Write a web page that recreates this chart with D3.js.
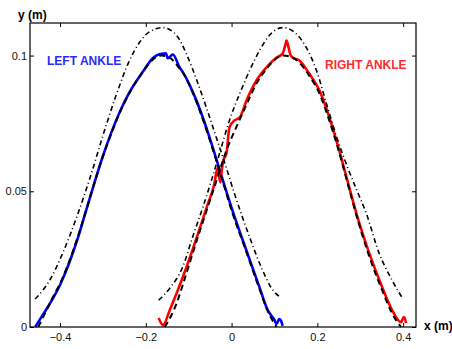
<!DOCTYPE html>
<html>
<head>
<meta charset="utf-8">
<script src="https://cdn.jsdelivr.net/npm/d3@7"></script>
<style>
    body { margin: 0; background: #fff; }
    svg { display: block; font-family: "Liberation Sans", Arial, Helvetica, sans-serif; }
    .axis path { display: none; }
    .axis line { stroke: #000; }
    .axis text { font-size: 11px; fill: #111; }
</style>
</head>
<body>
<div id="chart"></div>
<script>
// Measured left ankle trajectory [x, y] in metres
const leftAnkle = [
    [-0.458, 0], [-0.442, 0.004], [-0.423, 0.0088], [-0.400, 0.0155], [-0.380, 0.023],
    [-0.360, 0.032], [-0.340, 0.0425], [-0.320, 0.053], [-0.300, 0.0630], [-0.280, 0.0718],
    [-0.260, 0.0795], [-0.237, 0.0868], [-0.207, 0.0940], [-0.184, 0.0990], [-0.163, 0.1007],
    [-0.153, 0.1008], [-0.149, 0.0990], [-0.142, 0.0998], [-0.137, 0.1004], [-0.121, 0.0956],
    [-0.114, 0.0940], [-0.091, 0.0868], [-0.067, 0.0772], [-0.044, 0.0662], [-0.028, 0.0580],
    [0.002, 0.0430], [0.035, 0.0280], [0.065, 0.0147], [0.084, 0.0063], [0.100, 0.0026],
    [0.105, 0.0011], [0.111, 0.0029], [0.115, 0.0024], [0.119, 0.0004]
];

// Model left ankle trajectory (dashed)
const leftModel = [
    [-0.451, 0], [-0.435, 0.005], [-0.420, 0.010], [-0.400, 0.0160], [-0.380, 0.0235],
    [-0.360, 0.0325], [-0.340, 0.0425], [-0.320, 0.053], [-0.300, 0.0628], [-0.280, 0.0715],
    [-0.260, 0.0792], [-0.237, 0.0865], [-0.207, 0.0940], [-0.184, 0.0985], [-0.163, 0.1000],
    [-0.145, 0.0993], [-0.125, 0.0960], [-0.114, 0.0938], [-0.091, 0.0865], [-0.067, 0.0765],
    [-0.044, 0.0655], [-0.028, 0.0575], [0.002, 0.0420], [0.035, 0.0275], [0.065, 0.0140],
    [0.084, 0.0060], [0.097, 0.0020], [0.105, 0]
];

// Outer limit for the left ankle (dash-dot)
const leftLimit = [
    [-0.458, 0.0103], [-0.423, 0.0175], [-0.393, 0.0275], [-0.360, 0.0410], [-0.330, 0.0550],
    [-0.300, 0.0705], [-0.270, 0.0850], [-0.240, 0.0975], [-0.214, 0.1050], [-0.191, 0.1088],
    [-0.160, 0.1103], [-0.128, 0.1074], [-0.105, 0.1005], [-0.079, 0.0900], [-0.058, 0.0805],
    [-0.035, 0.0695], [-0.014, 0.0595], [0.007, 0.0490], [0.042, 0.0331], [0.072, 0.0210],
    [0.093, 0.0143], [0.116, 0.0107]
];

// Measured right ankle trajectory
const rightAnkle = [
    [-0.170, 0.0033], [-0.160, 0.0007], [-0.144, 0.0063], [-0.128, 0.0125], [-0.105, 0.0221],
    [-0.081, 0.0331], [-0.058, 0.0441], [-0.040, 0.0529], [-0.033, 0.0585], [-0.026, 0.0533],
    [-0.023, 0.0577], [-0.019, 0.0614], [-0.012, 0.064], [-0.005, 0.0735], [0.007, 0.0761],
    [0.019, 0.0772], [0.035, 0.0835], [0.058, 0.0908], [0.081, 0.0956], [0.105, 0.0993],
    [0.119, 0.1007], [0.126, 0.1044], [0.128, 0.1055], [0.133, 0.1029], [0.137, 0.1004],
    [0.142, 0.0993], [0.158, 0.0982], [0.181, 0.0934], [0.205, 0.0871], [0.228, 0.0772],
    [0.251, 0.0651], [0.270, 0.054], [0.291, 0.0419], [0.321, 0.0272], [0.351, 0.0147],
    [0.374, 0.0063], [0.395, 0.0018], [0.402, 0.0037], [0.407, 0.0015]
];

// Model right ankle trajectory (dashed)
const rightModel = [
    [-0.156, 0], [-0.140, 0.0044], [-0.128, 0.0088], [-0.114, 0.0154], [-0.081, 0.032],
    [-0.058, 0.043], [-0.035, 0.054], [-0.012, 0.065], [0.012, 0.074], [0.035, 0.082],
    [0.058, 0.0897], [0.081, 0.095], [0.105, 0.099], [0.119, 0.100], [0.137, 0.0996],
    [0.158, 0.0974], [0.181, 0.0926], [0.205, 0.086], [0.228, 0.076], [0.251, 0.0643],
    [0.270, 0.0533], [0.291, 0.0412], [0.321, 0.026], [0.351, 0.0136], [0.374, 0.0051], [0.395, 0]
];

// Outer limit for the right ankle (dash-dot)
const rightLimit = [
    [-0.170, 0.0099], [-0.144, 0.0143], [-0.114, 0.0221], [-0.091, 0.0331], [-0.067, 0.0441],
    [-0.047, 0.054], [-0.028, 0.064], [-0.005, 0.0761], [0.019, 0.086], [0.042, 0.0945],
    [0.065, 0.1018], [0.088, 0.1074], [0.119, 0.1103], [0.151, 0.108], [0.174, 0.103],
    [0.198, 0.0945], [0.221, 0.0824], [0.244, 0.0705], [0.270, 0.0590], [0.293, 0.0500],
    [0.314, 0.0419], [0.344, 0.0272], [0.374, 0.0173], [0.398, 0.0107]
];

const xTicks = [-0.4, -0.2, 0, 0.2, 0.4];
const yTicks = [0, 0.05, 0.1];

function renderChart() {
    const W = 452, H = 349;
    const margin = {top: 23, right: 36, bottom: 22, left: 30};
    const width = W - margin.left - margin.right;
    const height = H - margin.top - margin.bottom;

    const svg = d3.select('#chart')
        .append('svg')
        .attr('width', W)
        .attr('height', H);

    const g = svg.append('g')
        .attr('transform', `translate(${margin.left},${margin.top})`);

    const x = d3.scaleLinear().domain([-0.47, 0.43]).range([0, width]);
    const y = d3.scaleLinear().domain([0, 0.112]).range([height, 0]);

    const fmt = d => d === 0 ? '0' : d3.format('')(d);

    // Axes, ticks pointing inward, mirrored on top and right
    g.append('g')
        .attr('class', 'axis')
        .attr('transform', `translate(0,${height})`)
        .call(d3.axisBottom(x).tickValues(xTicks).tickSize(-4).tickPadding(6).tickFormat(fmt));
    g.append('g')
        .attr('class', 'axis')
        .call(d3.axisLeft(y).tickValues(yTicks).tickSize(-4).tickPadding(3).tickFormat(fmt));
    g.append('g')
        .attr('class', 'axis')
        .call(d3.axisTop(x).tickValues(xTicks).tickSize(-4).tickFormat(''));
    g.append('g')
        .attr('class', 'axis')
        .attr('transform', `translate(${width},0)`)
        .call(d3.axisRight(y).tickValues(yTicks).tickSize(-4).tickFormat(''));

    const line = d3.line()
        .x(d => x(d[0]))
        .y(d => y(d[1]))
        .curve(d3.curveMonotoneX);

    // Measured curves first, the model lines are drawn over them
    const series = [
        {data: leftAnkle, color: '#0000ff', width: 2.6, dash: null},
        {data: rightAnkle, color: '#ff0000', width: 2.6, dash: null},
        {data: leftModel, color: '#000', width: 2, dash: '6,4'},
        {data: rightModel, color: '#000', width: 2, dash: '6,4'},
        {data: leftLimit, color: '#000', width: 1.6, dash: '5,3,1,3'},
        {data: rightLimit, color: '#000', width: 1.6, dash: '5,3,1,3'}
    ];

    series.forEach(s => {
        g.append('path')
            .datum(s.data)
            .attr('fill', 'none')
            .attr('stroke', s.color)
            .attr('stroke-width', s.width)
            .attr('stroke-dasharray', s.dash)
            .attr('d', line);
    });

    // Frame
    g.append('rect')
        .attr('x', 0)
        .attr('y', 0)
        .attr('width', width)
        .attr('height', height)
        .attr('fill', 'none')
        .attr('stroke', '#000')
        .attr('stroke-width', 1.2);

    // Axis labels
    svg.append('text')
        .attr('x', 18)
        .attr('y', 19)
        .attr('font-size', 12)
        .attr('font-weight', 'bold')
        .text('y (m)');
    svg.append('text')
        .attr('x', 424)
        .attr('y', 330)
        .attr('font-size', 12)
        .attr('font-weight', 'bold')
        .text('x (m)');

    // Curve labels
    svg.append('text')
        .attr('x', 47)
        .attr('y', 65)
        .attr('font-size', 12)
        .attr('font-weight', 'bold')
        .attr('fill', '#2b2bff')
        .text('LEFT ANKLE');
    svg.append('text')
        .attr('x', 325)
        .attr('y', 69)
        .attr('font-size', 12)
        .attr('font-weight', 'bold')
        .attr('fill', '#ff2b2b')
        .text('RIGHT ANKLE');
}

renderChart();
</script>
</body>
</html>
